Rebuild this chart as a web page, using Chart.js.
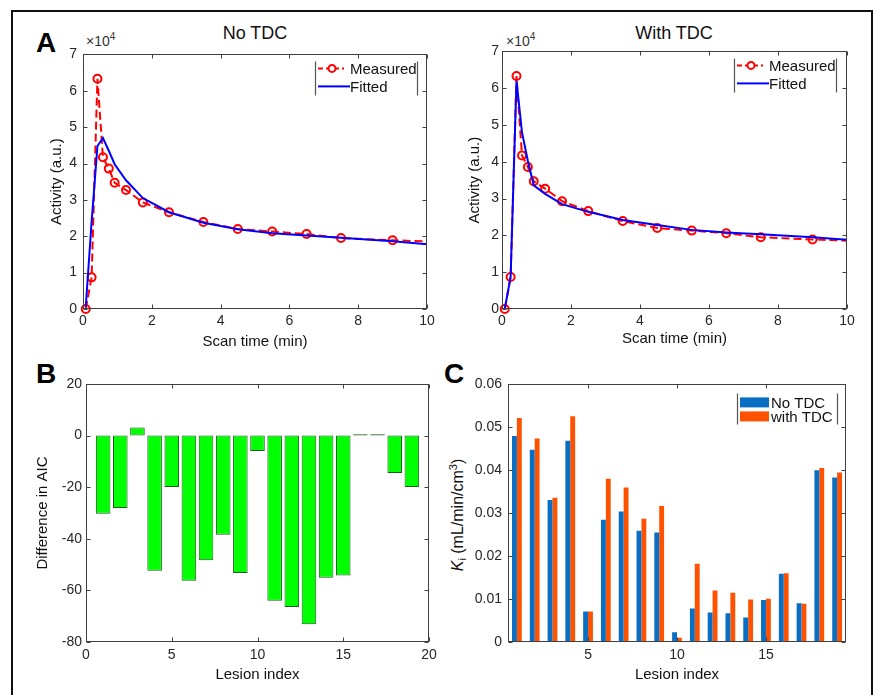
<!DOCTYPE html>
<html>
<head>
<meta charset="utf-8">
<script src="https://cdn.jsdelivr.net/npm/chart.js@4.4.1/dist/chart.umd.min.js"></script>
<style>
  html, body { margin: 0; padding: 0; background: #fff; }
  body { width: 873px; height: 695px; position: relative; overflow: hidden; font-family: 'Liberation Sans', Arial, sans-serif; color: #111; }
  .frame { position: absolute; left: 11px; top: 10px; width: 862px; height: 720px; border: 2px solid #111; box-sizing: border-box; }
  .panel { position: absolute; font-weight: bold; font-size: 28px; line-height: 28px; color: #000; }
  .title { position: absolute; font-size: 18px; line-height: 18px; color: #111; transform: translateX(-50%); white-space: nowrap; }
  .exp { position: absolute; font-size: 14px; line-height: 14px; color: #333; white-space: nowrap; }
  .exp sup { font-size: 10px; vertical-align: 6px; line-height: 0; }
  .ytitle { position: absolute; font-size: 16px; line-height: 18px; white-space: nowrap; color: #111; transform: translate(-50%, -50%) rotate(-90deg); }
  .ytitle sub { font-size: 11px; vertical-align: -3px; line-height: 0; }
  .ytitle sup { font-size: 11px; vertical-align: 6px; line-height: 0; }
  canvas { position: absolute; }
</style>
</head>
<body>
<div class="frame"></div>

<div class="panel" style="left:36px; top:29px;">A</div>
<div class="panel" style="left:36px; top:360px;">B</div>
<div class="panel" style="left:444px; top:360px;">C</div>

<div class="title" style="left:255px; top:24px;">No TDC</div>
<div class="title" style="left:674px; top:24px;">With TDC</div>

<div class="exp" style="left:86px; top:34px;">&times;10<sup>4</sup></div>
<div class="exp" style="left:506px; top:34px;">&times;10<sup>4</sup></div>

<div class="ytitle" style="left:458px; top:515px;"><i>K</i><sub>i</sub> (mL/min/cm<sup>3</sup>)</div>

<canvas id="chart-a1" width="405" height="320" style="left:40px; top:40px;"></canvas>
<canvas id="chart-a2" width="410" height="320" style="left:455px; top:40px;"></canvas>
<canvas id="chart-b" width="415" height="320" style="left:30px; top:370px;"></canvas>
<canvas id="chart-c" width="420" height="320" style="left:440px; top:370px;"></canvas>

<script>
// ===== 数据 =====
// A: time-activity curve (scan time in min, activity in a.u.)
var scanTimes = [0.08, 0.25, 0.42, 0.58, 0.75, 0.92, 1.25, 1.74, 2.5, 3.5, 4.5, 5.5, 6.5, 7.5, 9.0, 10.5];
var measured = [0, 8700, 63300, 41700, 38600, 34700, 32700, 29300, 26600, 23900, 22000, 21300, 20600, 19500, 18900, 18400];
var fittedNoTdc = [500, 24000, 44800, 47000, 43500, 39800, 35400, 30500, 26600, 23700, 21900, 20800, 20200, 19600, 18600, 17400];
var fittedWithTdc = [0, 8700, 62000, 48000, 40200, 33600, 31300, 28500, 26400, 24200, 22800, 21500, 20800, 20300, 19500, 18500];
var activityTicks = ['0', '1', '2', '3', '4', '5', '6', '7'];

// B: difference in AIC per lesion
var lesionIndex = [1, 2, 3, 4, 5, 6, 7, 8, 9, 10, 11, 12, 13, 14, 15, 16, 17, 18, 19];
var aicDiff = [-30.3, -28.1, 3.1, -52.4, -19.9, -56.3, -48.3, -38.4, -53.3, -6.0, -64.0, -66.4, -73.1, -55.1, -54.2, 0.5, 0.5, -14.5, -19.9];

// C: Ki per lesion
var kiNoTdc = [0.0480, 0.0448, 0.0331, 0.0469, 0.0071, 0.0285, 0.0304, 0.0259, 0.0255, 0.0023, 0.0078, 0.0069, 0.0067, 0.0057, 0.0098, 0.0159, 0.0090, 0.0400, 0.0383];
var kiWithTdc = [0.0522, 0.0474, 0.0336, 0.0526, 0.0071, 0.0380, 0.0360, 0.0287, 0.0317, 0.0010, 0.0182, 0.0120, 0.0115, 0.0099, 0.0101, 0.0160, 0.0089, 0.0405, 0.0395];
var lesionTickLabels = ['5', '10', '15'];

// ===== 样式 =====
var FONT = "'Liberation Sans', Arial, sans-serif";
var TICK_COLOR = '#262626';
var LABEL_COLOR = '#111';
var AXIS_COLOR = '#404040';
var TICK_LEN = 4;

// ===== 插件：MATLAB 风格边框 + 内向刻度 =====
var matlabBox = {
  id: 'matlabBox',
  afterDatasetsDraw: function(chart) {
    var a = chart.chartArea;
    var ctx = chart.ctx;
    var xs = chart.scales.x;
    var ys = chart.scales.y;
    var l = Math.round(a.left) + 0.5, r = Math.round(a.right) - 0.5;
    var t = Math.round(a.top) + 0.5, b = Math.round(a.bottom) - 0.5;
    ctx.save();
    ctx.strokeStyle = AXIS_COLOR;
    ctx.lineWidth = 1;
    ctx.strokeRect(l, t, r - l, b - t);
    ctx.beginPath();
    xs.ticks.forEach(function(tk, i) {
      if (tk.label === '') return;
      var px = Math.round(xs.getPixelForTick(i)) + 0.5;
      ctx.moveTo(px, b); ctx.lineTo(px, b - TICK_LEN);
      ctx.moveTo(px, t); ctx.lineTo(px, t + TICK_LEN);
    });
    ys.ticks.forEach(function(tk, i) {
      var py = Math.round(ys.getPixelForTick(i)) + 0.5;
      ctx.moveTo(l, py); ctx.lineTo(l + TICK_LEN, py);
      ctx.moveTo(r, py); ctx.lineTo(r - TICK_LEN, py);
    });
    ctx.stroke();
    ctx.restore();
  }
};

// ===== 插件：图例（只有左右竖线的框） =====
var boxLegend = {
  id: 'boxLegend',
  afterDraw: function(chart, args, o) {
    if (!o || !o.items) return;
    var ctx = chart.ctx;
    var a = chart.chartArea;
    var x0 = a.left + o.left, y0 = a.top + o.top;
    ctx.save();
    ctx.fillStyle = '#fff';
    ctx.fillRect(x0, y0, o.width, o.height);
    ctx.strokeStyle = '#555';
    ctx.lineWidth = 1.2;
    ctx.beginPath();
    ctx.moveTo(x0 + 0.5, y0); ctx.lineTo(x0 + 0.5, y0 + o.height);
    ctx.moveTo(x0 + o.width - 0.5, y0); ctx.lineTo(x0 + o.width - 0.5, y0 + o.height);
    ctx.stroke();
    o.items.forEach(function(it) {
      var cy = y0 + it.y;
      if (it.kind === 'swatch') {
        ctx.fillStyle = it.color;
        ctx.fillRect(x0 + it.x1, cy - it.h / 2, it.x2 - it.x1, it.h);
      } else {
        ctx.strokeStyle = it.color;
        ctx.lineWidth = 2;
        ctx.setLineDash(it.dash || []);
        ctx.beginPath();
        ctx.moveTo(x0 + it.x1, cy); ctx.lineTo(x0 + it.x2, cy);
        ctx.stroke();
        ctx.setLineDash([]);
        if (it.marker) {
          ctx.fillStyle = '#fff';
          ctx.beginPath();
          ctx.arc(x0 + it.marker, cy, 3.5, 0, Math.PI * 2);
          ctx.fill();
          ctx.stroke();
        }
      }
      ctx.fillStyle = LABEL_COLOR;
      ctx.font = '15px ' + FONT;
      ctx.textBaseline = 'middle';
      ctx.fillText(it.text, x0 + o.textLeft, cy + 1);
    });
    ctx.restore();
  }
};

function pairs(xs, ys) {
  return xs.map(function(x, i) { return { x: x, y: ys[i] }; });
}

function axisBase(extra) {
  var base = {
    grid: { display: false, drawTicks: false },
    border: { display: false },
    ticks: { color: TICK_COLOR, font: { family: FONT, size: 14 } },
    title: { display: false }
  };
  Object.keys(extra).forEach(function(k) {
    if (typeof extra[k] === 'object' && base[k] && !Array.isArray(extra[k])) {
      base[k] = Object.assign({}, base[k], extra[k]);
    } else {
      base[k] = extra[k];
    }
  });
  return base;
}

// ===== A: 时间-活度曲线 =====
function makeCurveConfig(fitted, lay) {
  var clip = { left: 6, top: 6, right: 0, bottom: 6 };
  return {
    type: 'line',
    data: {
      datasets: [
        {
          label: 'Fitted',
          data: pairs(scanTimes, fitted),
          borderColor: '#0000ff',
          borderWidth: 2,
          pointRadius: 0,
          tension: 0,
          order: 0,
          clip: clip
        },
        {
          label: 'Measured',
          data: pairs(scanTimes, measured),
          borderColor: '#ff0000',
          borderWidth: 2,
          borderDash: [8, 4],
          pointRadius: 4,
          pointBorderWidth: 2,
          pointBorderColor: '#ff0000',
          pointBackgroundColor: 'rgba(0,0,0,0)',
          tension: 0,
          order: 1,
          clip: clip
        }
      ]
    },
    options: {
      responsive: false,
      animation: false,
      events: [],
      layout: { padding: { top: 11, right: lay.padRight, left: 0, bottom: 0 } },
      plugins: {
        legend: { display: false },
        tooltip: { enabled: false },
        boxLegend: {
          left: 232, top: 7, width: 103, height: 34, textLeft: 35,
          items: [
            { kind: 'line', text: 'Measured', color: '#ff0000', dash: [5, 3], x1: 3, x2: 29, marker: 17, y: 7 },
            { kind: 'line', text: 'Fitted', color: '#0000ff', x1: 3, x2: 35, y: 25 }
          ]
        }
      },
      scales: {
        x: axisBase({
          type: 'linear', min: 0, max: 10,
          ticks: { stepSize: 2, padding: 4, maxRotation: 0 },
          title: { display: true, text: 'Scan time (min)', color: LABEL_COLOR, font: { family: FONT, size: 15 }, padding: { top: 0, bottom: lay.xTitlePad } },
          afterFit: function(s) { s.height = 51; }
        }),
        y: axisBase({
          type: 'linear', min: 0, max: 70000,
          ticks: { stepSize: 10000, padding: lay.yTickPad, callback: function(v) { return activityTicks[Math.round(v / 10000)]; } },
          title: { display: true, text: 'Activity (a.u.)', color: LABEL_COLOR, font: { family: FONT, size: 15 }, padding: { top: lay.yTitlePad, bottom: 0 } },
          afterFit: function(s) { s.width = lay.yWidth; }
        })
      }
    },
    plugins: [matlabBox, boxLegend]
  };
}

new Chart(document.getElementById('chart-a1'), makeCurveConfig(fittedNoTdc, { padRight: 18, yWidth: 43, yTitlePad: 8, xTitlePad: 9, yTickPad: 6 }));
new Chart(document.getElementById('chart-a2'), makeCurveConfig(fittedWithTdc, { padRight: 18, yWidth: 47, yTitlePad: 11, xTitlePad: 12, yTickPad: 3 }));

// ===== B: AIC 差值 =====
new Chart(document.getElementById('chart-b'), {
  type: 'bar',
  data: {
    datasets: [{
      label: 'Difference in AIC',
      data: pairs(lesionIndex, aicDiff),
      backgroundColor: '#00ff00',
      borderColor: '#1d5e1d',
      borderWidth: 1,
      borderSkipped: false,
      barPercentage: 0.85,
      categoryPercentage: 1
    }]
  },
  options: {
    responsive: false,
    animation: false,
    events: [],
    layout: { padding: { top: 14, right: 16, left: 0, bottom: 0 } },
    plugins: { legend: { display: false }, tooltip: { enabled: false } },
    scales: {
      x: axisBase({
        type: 'linear', min: 0, max: 20, offset: false,
        ticks: { stepSize: 5, padding: 5, maxRotation: 0 },
        title: { display: true, text: 'Lesion index', color: LABEL_COLOR, font: { family: FONT, size: 15 }, padding: { top: 0, bottom: 6 } },
        afterFit: function(s) { s.height = 48; }
      }),
      y: axisBase({
        type: 'linear', min: -80, max: 20,
        ticks: { stepSize: 20, padding: 4, callback: function(v) { return String(v); } },
        title: { display: true, text: 'Difference in AIC', color: LABEL_COLOR, font: { family: FONT, size: 15 }, padding: { top: 4, bottom: 0 } },
        afterFit: function(s) { s.width = 56; }
      })
    }
  },
  plugins: [matlabBox]
});

// ===== C: Ki 对比 =====
new Chart(document.getElementById('chart-c'), {
  type: 'bar',
  data: {
    labels: lesionIndex.map(String),
    datasets: [
      { label: 'No TDC', data: kiNoTdc, backgroundColor: '#0a6fc2', borderWidth: 0, barPercentage: 1, categoryPercentage: 0.55 },
      { label: 'with TDC', data: kiWithTdc, backgroundColor: '#ff5200', borderWidth: 0, barPercentage: 1, categoryPercentage: 0.55 }
    ]
  },
  options: {
    responsive: false,
    animation: false,
    events: [],
    layout: { padding: { top: 14, right: 14, left: 0, bottom: 0 } },
    plugins: {
      legend: { display: false },
      tooltip: { enabled: false },
      boxLegend: {
        left: 229, top: 9, width: 101, height: 31, textLeft: 34,
        items: [
          { kind: 'swatch', text: 'No TDC', color: '#0a6fc2', x1: 3, x2: 32, h: 10, y: 9 },
          { kind: 'swatch', text: 'with TDC', color: '#ff5200', x1: 3, x2: 32, h: 10, y: 23 }
        ]
      }
    },
    scales: {
      x: axisBase({
        type: 'category',
        ticks: {
          autoSkip: false, maxRotation: 0, padding: 5,
          callback: function(v) {
            var l = this.getLabelForValue(v);
            return lesionTickLabels.indexOf(l) >= 0 ? l : '';
          }
        },
        title: { display: true, text: 'Lesion index', color: LABEL_COLOR, font: { family: FONT, size: 15 }, padding: { top: 0, bottom: 6 } },
        afterFit: function(s) { s.height = 48; }
      }),
      y: axisBase({
        type: 'linear', min: 0, max: 0.06,
        ticks: { stepSize: 0.01, padding: 6, callback: function(v) { return v === 0 ? '0' : v.toFixed(2); } },
        afterFit: function(s) { s.width = 68; }
      })
    }
  },
  plugins: [matlabBox, boxLegend]
});
</script>
</body>
</html>
